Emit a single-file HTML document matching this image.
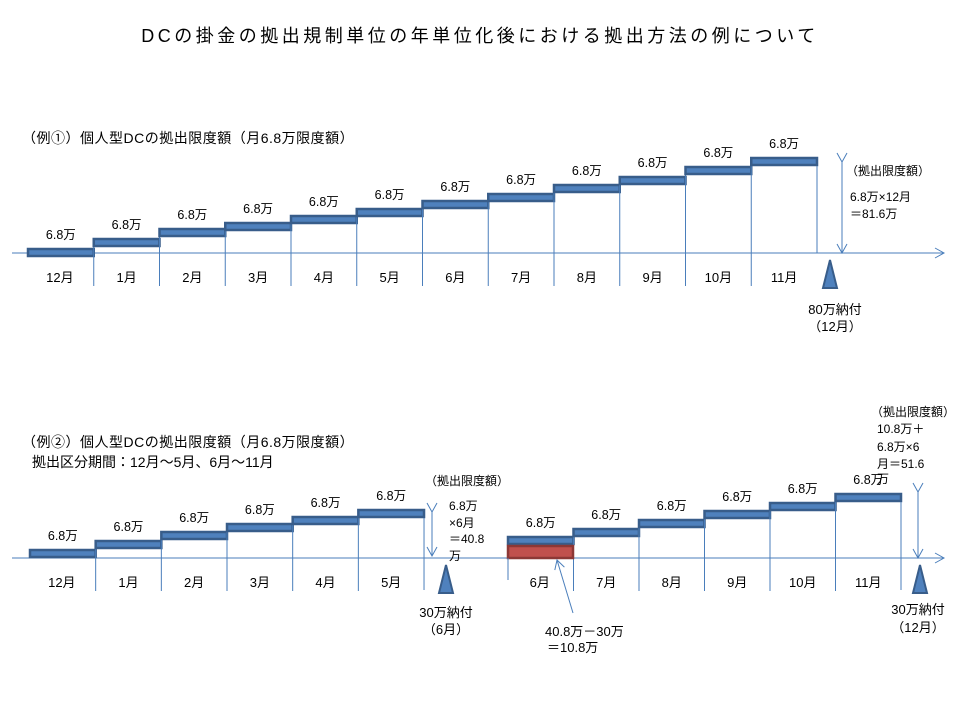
<!DOCTYPE html>
<html><head><meta charset="utf-8">
<style>
html,body{margin:0;padding:0;background:#fff;}
svg text{font-family:"Liberation Sans","Noto Sans CJK JP",sans-serif;fill:#000;}
</style></head>
<body>
<svg id="c" width="960" height="720" viewBox="0 0 960 720" xmlns="http://www.w3.org/2000/svg">
<defs>
<marker id="ah" markerWidth="12" markerHeight="12" refX="10" refY="6" orient="auto" markerUnits="userSpaceOnUse"><path d="M1,1 L10,6 L1,11" fill="none" stroke="#4a7ebb" stroke-width="1"/></marker>
</defs>
<text x="480" y="42" font-size="18" letter-spacing="3.5" text-anchor="middle">DCの掛金の拠出規制単位の年単位化後における拠出方法の例について</text>
<text x="22" y="143" font-size="14" letter-spacing="0.5">（例①）個人型DCの拠出限度額（月6.8万限度額）</text>
<text x="22" y="447" font-size="14" letter-spacing="0.5">（例②）個人型DCの拠出限度額（月6.8万限度額）</text>
<text x="32" y="467" font-size="14">拠出区分期間：12月～5月、6月～11月</text>
<g id="g"></g>
</svg>
<script>
const months1 = ["12月","1月","2月","3月","4月","5月","6月","7月","8月","9月","10月","11月"];
const values1 = [6.8,6.8,6.8,6.8,6.8,6.8,6.8,6.8,6.8,6.8,6.8,6.8];
const levels1 = [0,10,20,26,33,40,48,55,64,72,82,91];
const months2a = ["12月","1月","2月","3月","4月","5月"];
const levels2a = [0,9,18,26,33,40];
const months2b = ["6月","7月","8月","9月","10月","11月"];
const levels2b = [13,21,30,39,47,56];
const carry2 = 10.8;

const NS="http://www.w3.org/2000/svg";
const g=document.getElementById('g');
function mk(t,a,parent){const e=document.createElementNS(NS,t);for(const k in a)e.setAttribute(k,a[k]);(parent||g).appendChild(e);return e;}
function txt(x,y,s,size,anchor){const e=mk('text',{x:x,y:y,'font-size':size||12,'text-anchor':anchor||'middle'});e.textContent=s;return e;}
const BLUE="#4f81bd",DARK="#385d8a",LINE="#4a7ebb";

function drawSeries(months,levels,x0,w,axisY,baseTop,name){
  const yTop=l=>baseTop-l;
  months.forEach((m,i)=>{
    const x=x0+i*w, t=yTop(levels[i]);
    if(i>0){const v=mk('line',{x1:x,y1:t+8,x2:x,y2:axisY+33,stroke:LINE,'stroke-width':1});
      }
    const b=mk('rect',{x:x,y:t,width:w,height:7,fill:BLUE,stroke:DARK,'stroke-width':2.5});
    
    
    const lb=txt(x+w/2,t-10,values1[i%12]+'万',12.5);
    
    
    const ml=txt(x+w/2+(i==0?-1:0),axisY+29,m,13);
    
    
  });
  const lx=x0+months.length*w, lt=yTop(levels[levels.length-1]);
  const v=mk('line',{x1:lx,y1:lt+8,x2:lx,y2:axisY+(name=='ex1'?0:32),stroke:LINE,'stroke-width':1});
  
}
function tri(cx,y){const p=mk('polygon',{points:`${cx-7},${y+28} ${cx},${y} ${cx+7},${y+28}`,fill:BLUE,stroke:DARK,'stroke-width':2});
  }
function varrow(x,y1,y2){const l=mk('line',{x1:x,y1:y1,x2:x,y2:y2,stroke:LINE,'stroke-width':1,'marker-end':'url(#ah)','marker-start':'url(#ah)'});
  }
function axis(y){const l=mk('line',{x1:12,y1:y,x2:944,y2:y,stroke:LINE,'stroke-width':1,'marker-end':'url(#ah)'});
  }

// Example 1
axis(253);
drawSeries(months1,levels1,28,65.75,253,249,'ex1');
tri(830,260);
txt(835,314,'80万納付',13);
txt(835,331,'（12月）',13);
varrow(842,162,253);
txt(846,175,'（拠出限度額）',12,'start');
txt(850,201,'6.8万×12月',12,'start');
txt(850,218,'＝81.6万',12,'start');

// Example 2
axis(558);
drawSeries(months2a,levels2a,30,65.67,558,550,'ex2a');
drawSeries(months2b,levels2b,508,65.5,558,550,'ex2b');
const red=mk('rect',{x:508,y:546,width:65,height:12,fill:"#c0504d",stroke:"#8c3836",'stroke-width':2.5});


const fl=mk('line',{x1:508,y1:558,x2:508,y2:580,stroke:LINE,'stroke-width':1});

const ptr=mk('line',{x1:573,y1:613,x2:557,y2:560,stroke:LINE,'stroke-width':1,'marker-end':'url(#ah)'});

txt(545,636,'40.8万－30万',13,'start');
txt(547,652,'＝'+carry2+'万',13,'start');
tri(446,565);
txt(446,617,'30万納付',13);
txt(446,634,'（6月）',13);
varrow(432,512,556);
txt(425,485,'（拠出限度額）',12,'start');
txt(449,510,'6.8万',12,'start');
txt(449,527,'×6月',12,'start');
txt(449,543,'＝40.8',12,'start');
txt(449,560,'万',12,'start');
tri(920,565);
txt(918,614,'30万納付',13);
txt(918,632,'（12月）',13);
varrow(918,492,558);
txt(871,416,'（拠出限度額）',12,'start');
txt(877,433,'10.8万＋',12,'start');
txt(877,451,'6.8万×6',12,'start');
txt(877,468,'月＝51.6',12,'start');
txt(877,483,'万',12,'start');
</script>
</body></html>
